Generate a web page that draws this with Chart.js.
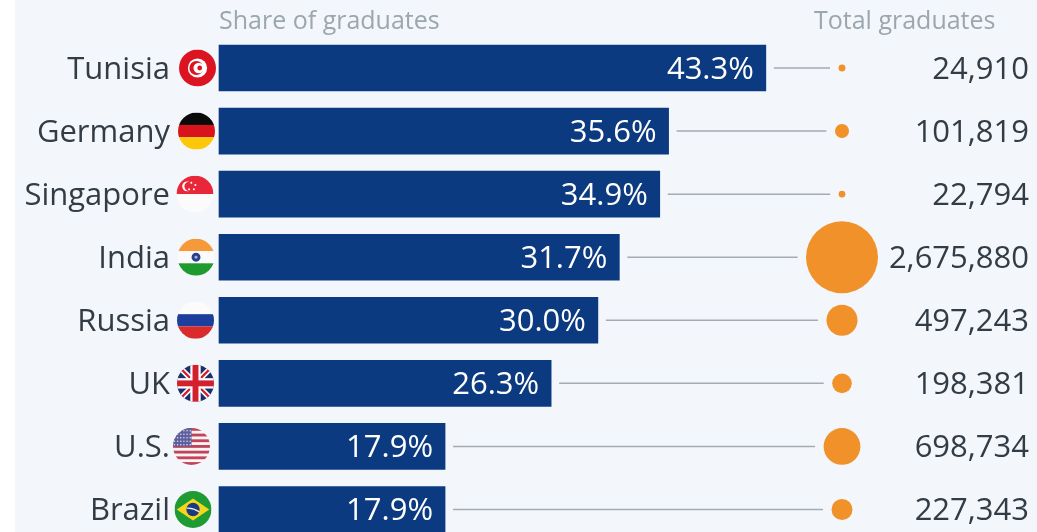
<!DOCTYPE html>
<html>
<head>
<meta charset="utf-8">
<script src="https://cdn.jsdelivr.net/npm/chart.js@4"></script>
<style>
    html, body { margin: 0; padding: 0; background: #fff; overflow: hidden; }
    canvas { display: block; }
</style>
</head>
<body>
<canvas id="graduatesChart" width="1037" height="532"></canvas>
<script>
const countries = ['Tunisia', 'Germany', 'Singapore', 'India', 'Russia', 'UK', 'U.S.', 'Brazil'];
const shareOfGraduates = [43.3, 35.6, 34.9, 31.7, 30.0, 26.3, 17.9, 17.9];
const totalGraduates = [24910, 101819, 22794, 2675880, 497243, 198381, 698734, 227343];

const FONT = '"Open Sans", sans-serif';
const TEXT = '#333c44';
const MUTED = '#9ba6ae';
const NAVY = '#0c3a80';
const ORANGE = '#f0912a';
const PAGE_BG = '#f3f7fb';
const BUBBLE_COLUMN = 49.33;   // x position of the bubbles, on the share scale
const BUBBLE_SCALE = 0.022;    // bubble area follows the graduate count
const TEXT_DROP = 2;           // row text sits a little under the bar centre

function band(ctx, color, y0, y1) {
    ctx.fillStyle = color;
    ctx.fillRect(-1, y0, 2, y1 - y0);
}

function disc(ctx, color, x, y, r) {
    ctx.fillStyle = color;
    ctx.beginPath();
    ctx.arc(x, y, r, 0, Math.PI * 2);
    ctx.fill();
}

// Flags are painted in a unit circle, clipping happens in drawFlag
const flags = {
    'Tunisia': { x: 197.5, paint(ctx) {
        band(ctx, '#dc1320', -1, 1);
        disc(ctx, '#fff', 0, 0, 0.52);
        disc(ctx, '#dc1320', -0.06, 0, 0.38);
        disc(ctx, '#fff', 0.07, 0, 0.29);
        disc(ctx, '#dc1320', 0.12, 0, 0.13);
    } },
    'Germany': { x: 196.5, paint(ctx) {
        band(ctx, '#0a0a0a', -1, -0.33);
        band(ctx, '#d8131c', -0.33, 0.33);
        band(ctx, '#fdc70a', 0.33, 1);
    } },
    'Singapore': { x: 195, paint(ctx) {
        band(ctx, '#e8283a', -1, 0);
        band(ctx, '#fbfbfb', 0, 1);
        disc(ctx, '#fff', -0.42, -0.42, 0.27);
        disc(ctx, '#e8283a', -0.32, -0.42, 0.25);
        [[-0.2, -0.62], [0.02, -0.5], [-0.06, -0.26], [-0.32, -0.26]].forEach(p => disc(ctx, '#fff', p[0], p[1], 0.055));
    } },
    'India': { x: 196, paint(ctx) {
        band(ctx, '#f5993a', -1, -0.33);
        band(ctx, '#fafafa', -0.33, 0.33);
        band(ctx, '#1f9a2f', 0.33, 1);
        disc(ctx, '#2b3f8f', 0, 0, 0.24);
        disc(ctx, '#aab2d4', 0, 0, 0.08);
    } },
    'Russia': { x: 195.5, paint(ctx) {
        band(ctx, '#fbfbfb', -1, -0.33);
        band(ctx, '#1c3f9e', -0.33, 0.33);
        band(ctx, '#d92b2b', 0.33, 1);
    } },
    'UK': { x: 195.5, paint(ctx) {
        band(ctx, '#1b2f6b', -1, 1);
        ctx.lineCap = 'butt';
        [['#fff', 0.3], ['#d3202f', 0.12]].forEach(stroke => {
            ctx.strokeStyle = stroke[0];
            ctx.lineWidth = stroke[1];
            ctx.beginPath();
            ctx.moveTo(-1, -1); ctx.lineTo(1, 1);
            ctx.moveTo(1, -1); ctx.lineTo(-1, 1);
            ctx.stroke();
        });
        ctx.fillStyle = '#fff';
        ctx.fillRect(-0.28, -1, 0.56, 2);
        ctx.fillRect(-1, -0.28, 2, 0.56);
        ctx.fillStyle = '#d3202f';
        ctx.fillRect(-0.16, -1, 0.32, 2);
        ctx.fillRect(-1, -0.16, 2, 0.32);
    } },
    'U.S.': { x: 191.5, paint(ctx) {
        band(ctx, '#fbf4f4', -1, 1);
        for (let i = 0; i < 7; i++) {
            const top = -1 + i * (2 / 6.5);
            band(ctx, '#c2445a', top, top + 1 / 6.5);
        }
        ctx.fillStyle = '#5d5f9e';
        ctx.fillRect(-1, -1, 1, 1);
        for (let r = 0; r < 5; r++) {
            for (let c = 0; c < 6; c++) {
                disc(ctx, '#e3e3f0', -0.92 + c * 0.17, -0.85 + r * 0.19, 0.04);
            }
        }
    } },
    'Brazil': { x: 193, paint(ctx) {
        band(ctx, '#1f9b33', -1, 1);
        ctx.fillStyle = '#f6d61a';
        ctx.beginPath();
        ctx.moveTo(-0.88, 0); ctx.lineTo(0, -0.6); ctx.lineTo(0.88, 0); ctx.lineTo(0, 0.6);
        ctx.closePath();
        ctx.fill();
        disc(ctx, '#1d3a7e', 0, 0, 0.36);
        ctx.strokeStyle = '#e8edf2';
        ctx.lineWidth = 0.07;
        ctx.beginPath();
        ctx.moveTo(-0.35, -0.07);
        ctx.quadraticCurveTo(0, -0.1, 0.35, 0.13);
        ctx.stroke();
    } }
};

function drawFlag(ctx, name, y) {
    const flag = flags[name];
    ctx.save();
    ctx.translate(flag.x, y);
    ctx.scale(18.5, 18.5);
    ctx.beginPath();
    ctx.arc(0, 0, 1, 0, Math.PI * 2);
    ctx.clip();
    flag.paint(ctx);
    ctx.restore();
}

function bubbleRadius(total) {
    return Math.sqrt(total) * BUBBLE_SCALE;
}

// Page tint, leaving the thin white strip on the left
const backgroundPlugin = {
    id: 'pageBackground',
    beforeDraw(chart) {
        const ctx = chart.ctx;
        ctx.save();
        ctx.fillStyle = PAGE_BG;
        ctx.fillRect(15, 0, chart.width - 15, chart.height);
        ctx.restore();
    }
};

// Connector lines between the bars and the bubbles
const connectorPlugin = {
    id: 'connectors',
    beforeDatasetsDraw(chart) {
        const ctx = chart.ctx;
        const x = chart.scales.x;
        const y = chart.scales.y;
        ctx.save();
        ctx.strokeStyle = '#a4abb1';
        ctx.lineWidth = 1.5;
        countries.forEach((name, i) => {
            const start = x.getPixelForValue(shareOfGraduates[i]) + 8;
            const end = x.getPixelForValue(BUBBLE_COLUMN) - bubbleRadius(totalGraduates[i]) - 8.5;
            const py = y.getPixelForValue(i);
            ctx.beginPath();
            ctx.moveTo(start, py);
            ctx.lineTo(end, py);
            ctx.stroke();
        });
        ctx.restore();
    }
};

// Column headers, value labels, totals and flags
const labelPlugin = {
    id: 'rowLabels',
    afterDatasetsDraw(chart) {
        const ctx = chart.ctx;
        const x = chart.scales.x;
        const y = chart.scales.y;
        ctx.save();
        ctx.textBaseline = 'middle';

        ctx.font = '25px ' + FONT;
        ctx.fillStyle = MUTED;
        ctx.textAlign = 'left';
        ctx.fillText('Share of graduates', 219, 22);
        ctx.fillText('Total graduates', 814, 22);

        ctx.font = '31px ' + FONT;
        countries.forEach((name, i) => {
            const py = y.getPixelForValue(i);
            ctx.fillStyle = '#fff';
            ctx.textAlign = 'right';
            ctx.fillText(shareOfGraduates[i].toFixed(1) + '%', x.getPixelForValue(shareOfGraduates[i]) - 12, py + TEXT_DROP);
            ctx.fillStyle = TEXT;
            ctx.fillText(totalGraduates[i].toLocaleString('en-US'), 1029, py + TEXT_DROP);
            drawFlag(ctx, name, py);
        });
        ctx.restore();
    }
};

new Chart(document.getElementById('graduatesChart').getContext('2d'), {
    type: 'bar',
    data: {
        labels: countries,
        datasets: [{
            data: shareOfGraduates,
            backgroundColor: NAVY,
            barThickness: 46,
            clip: false,
            order: 2
        }, {
            type: 'bubble',
            data: totalGraduates.map((total, i) => ({ x: BUBBLE_COLUMN, y: i, r: bubbleRadius(total) })),
            backgroundColor: ORANGE,
            borderWidth: 0,
            clip: false,
            order: 1
        }]
    },
    options: {
        indexAxis: 'y',
        responsive: false,
        animation: false,
        layout: { autoPadding: false, padding: { top: 68, bottom: 22.5, left: 0, right: 0 } },
        plugins: {
            legend: { display: false },
            tooltip: { enabled: false }
        },
        scales: {
            x: {
                type: 'linear',
                display: false,
                min: 0,
                max: 64.77
            },
            y: {
                type: 'category',
                offset: false,
                border: { display: false },
                // tick length makes the room for the flags, ticks.padding would also pad the axis ends
                grid: { display: false, offset: false, drawTicks: true, tickLength: 49 },
                afterFit(scale) { scale.width = 219; },
                ticks: {
                    autoSkip: false,
                    padding: 0,
                    labelOffset: TEXT_DROP,
                    color: TEXT,
                    font: { family: FONT, size: 31 }
                }
            }
        }
    },
    plugins: [backgroundPlugin, connectorPlugin, labelPlugin]
});
</script>
</body>
</html>
